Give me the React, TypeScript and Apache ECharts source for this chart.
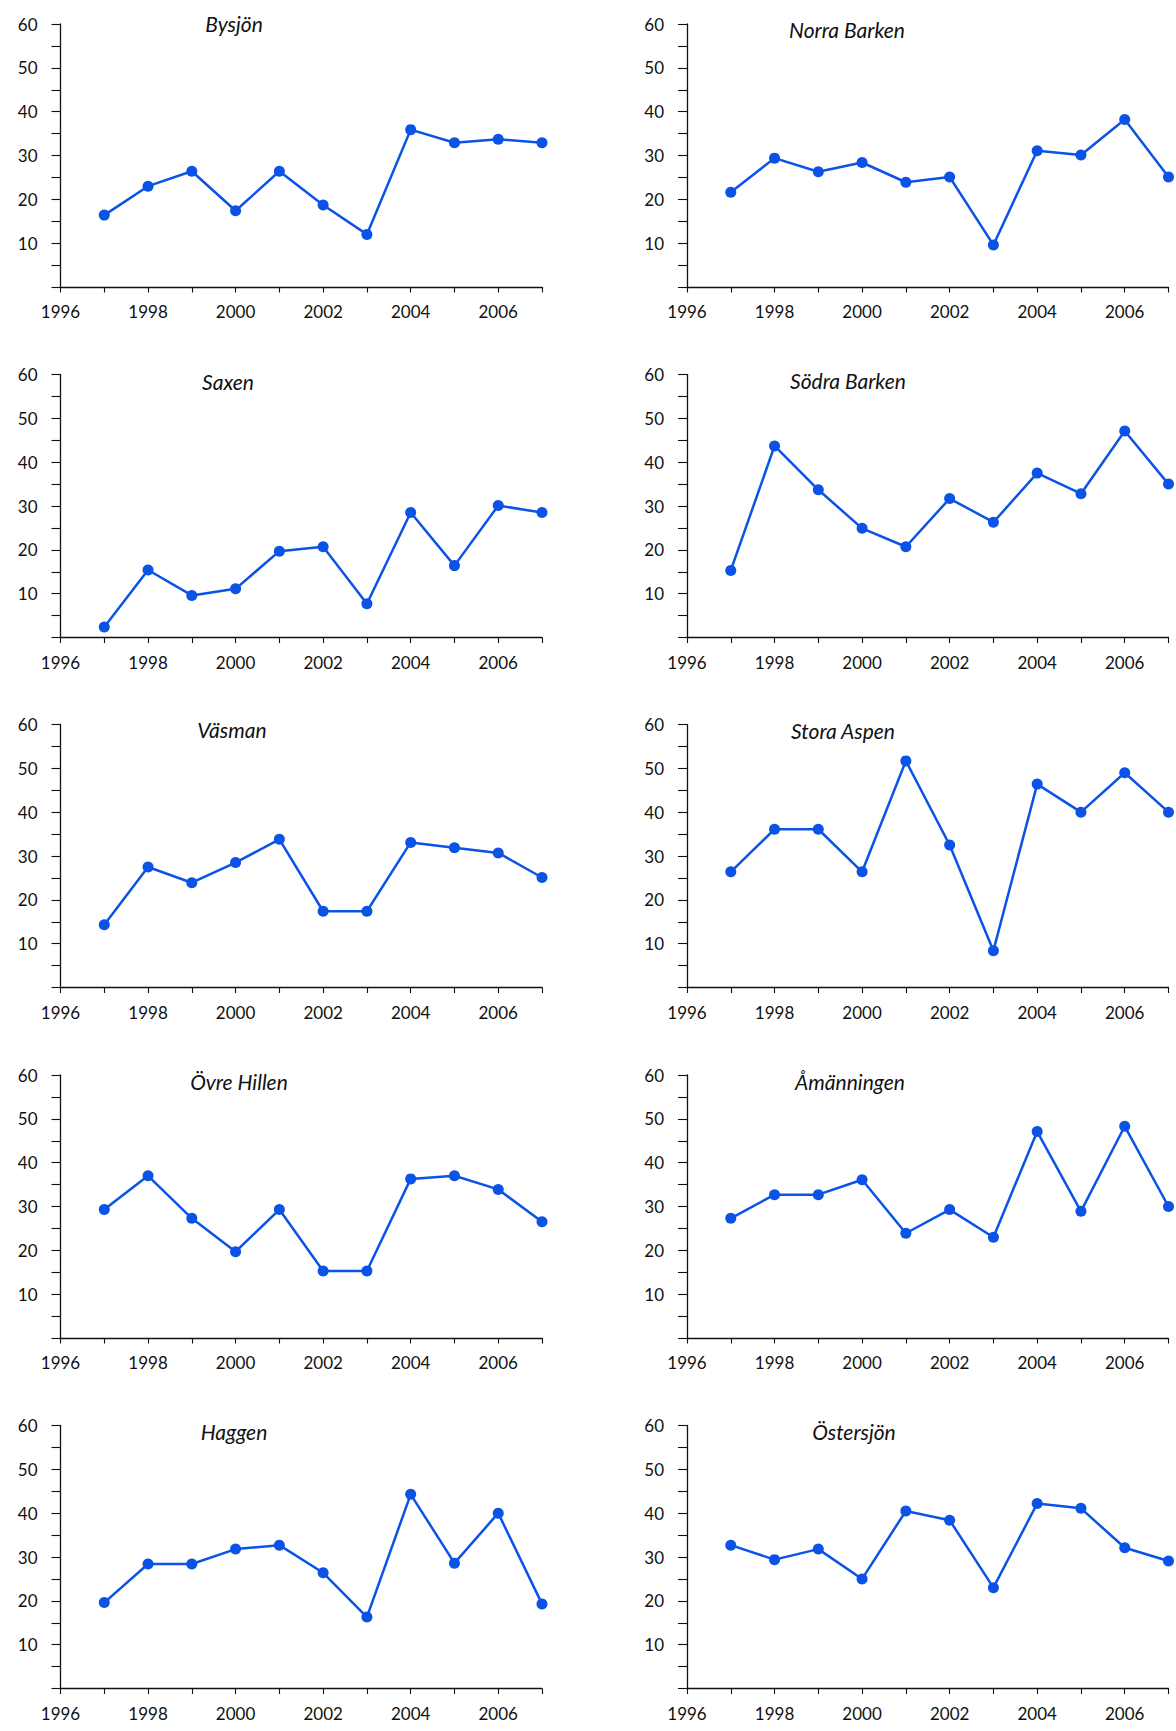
import React, { useEffect, useRef } from "react";
import * as echarts from "echarts";

const years = [1997, 1998, 1999, 2000, 2001, 2002, 2003, 2004, 2005, 2006, 2007];

const lakeNames = [
  "Bysjön", "Norra Barken",
  "Saxen", "Södra Barken",
  "Väsman", "Stora Aspen",
  "Övre Hillen", "Åmänningen",
  "Haggen", "Östersjön",
];

const bysjon = [16.4, 23.0, 26.4, 17.4, 26.4, 18.7, 12.0, 35.9, 32.9, 33.7, 32.9];
const norraBarken = [21.6, 29.4, 26.3, 28.4, 23.9, 25.1, 9.6, 31.1, 30.1, 38.2, 25.1];
const saxen = [2.4, 15.4, 9.6, 11.1, 19.7, 20.7, 7.7, 28.5, 16.4, 30.1, 28.5];
const sodraBarken = [15.3, 43.7, 33.7, 24.9, 20.7, 31.7, 26.3, 37.5, 32.8, 47.1, 35.0];
const vasman = [14.3, 27.5, 23.9, 28.5, 33.8, 17.4, 17.4, 33.1, 31.9, 30.7, 25.1];
const storaAspen = [26.4, 36.1, 36.1, 26.4, 51.7, 32.5, 8.4, 46.4, 40.0, 49.0, 40.0];
const ovreHillen = [29.3, 37.0, 27.3, 19.7, 29.3, 15.3, 15.3, 36.3, 37.0, 33.9, 26.5];
const amanningen = [27.3, 32.7, 32.7, 36.1, 23.9, 29.3, 23.0, 47.1, 28.9, 48.3, 30.0];
const haggen = [19.6, 28.4, 28.4, 31.8, 32.7, 26.4, 16.3, 44.3, 28.6, 40.0, 19.3];
const ostersjon = [32.7, 29.4, 31.8, 25.0, 40.5, 38.4, 23.0, 42.2, 41.1, 32.1, 29.1];

const seriesValues = [
  bysjon, norraBarken, saxen, sodraBarken, vasman,
  storaAspen, ovreHillen, amanningen, haggen, ostersjon,
];

const xMin = 1996;
const xMax = 2007;
const yMin = 0;
const yMax = 60;

const BLUE = "#0b52e6";
const INK = "#111111";
const FONT = "Lato, 'Open Sans', 'DejaVu Sans', sans-serif";

const gridLefts = [60.5, 687];
const gridTops = [24, 374.5, 724.5, 1075, 1425.5];
const gridW = 481.5;
const gridH = 263;

// title positions (centre x, cap-centre y)
const titlePos = [
  [234, 23.5], [847, 29.5],
  [228, 381], [848, 380],
  [232, 729.5], [843, 730.5],
  [239, 1081], [850, 1081],
  [234, 1431], [854, 1431],
];

export default function App() {
  const ref = useRef<HTMLDivElement>(null);

  useEffect(() => {
    if (!ref.current) return;
    const chart = echarts.init(ref.current, null, { renderer: "svg" });

    const grids: any[] = [];
    const xAxes: any[] = [];
    const yAxes: any[] = [];
    const series: any[] = [];
    const graphics: any[] = [];

    seriesValues.forEach((vals, i) => {
      const col = i % 2;
      const row = Math.floor(i / 2);
      grids.push({
        left: gridLefts[col],
        top: gridTops[row],
        width: gridW,
        height: gridH,
        containLabel: false,
      });
      xAxes.push({
        type: "value",
        gridIndex: i,
        min: xMin,
        max: xMax,
        interval: 1,
        splitLine: { show: false },
        axisLine: { show: true, lineStyle: { color: INK, width: 1.3 } },
        axisTick: { show: true, length: 5.5, inside: false, lineStyle: { color: INK, width: 1.1 } },
        axisLabel: {
          show: true,
          margin: 16,
          color: INK,
          fontSize: 17,
          fontFamily: FONT,
          showMaxLabel: true,
          showMinLabel: true,
          formatter: (v: number) => (v % 2 === 0 ? String(v) : ""),
        },
      });
      yAxes.push({
        type: "value",
        gridIndex: i,
        min: yMin,
        max: yMax,
        interval: 5,
        splitLine: { show: false },
        axisLine: { show: true, lineStyle: { color: INK, width: 1.3 } },
        axisTick: { show: true, length: 9, lineStyle: { color: INK, width: 1.1 } },
        axisLabel: {
          show: true,
          margin: 23,
          color: INK,
          fontSize: 17,
          fontFamily: FONT,
          formatter: (v: number) => (v !== 0 && v % 10 === 0 ? String(v) : ""),
        },
      });
      series.push({
        type: "line",
        xAxisIndex: i,
        yAxisIndex: i,
        data: years.map((y, k) => [y, vals[k]]),
        symbol: "circle",
        symbolSize: 11,
        showSymbol: true,
        clip: false,
        lineStyle: { color: BLUE, width: 2.5 },
        itemStyle: { color: BLUE },
        z: 3,
      });
      graphics.push({
        type: "text",
        x: titlePos[i][0],
        y: titlePos[i][1],
        style: {
          text: lakeNames[i],
          fill: INK,
          font: `italic 21px ${FONT}`,
          textAlign: "center",
          textVerticalAlign: "middle",
        },
      });
    });

    chart.setOption({
      animation: false,
      backgroundColor: "#ffffff",
      grid: grids,
      xAxis: xAxes,
      yAxis: yAxes,
      series,
      graphic: graphics,
    });

    return () => {
      chart.dispose();
    };
  }, []);

  return (
    <div
      ref={ref}
      style={{
        position: "absolute",
        left: 0,
        top: 0,
        width: 1176,
        height: 1731,
        background: "#ffffff",
      }}
    />
  );
}
